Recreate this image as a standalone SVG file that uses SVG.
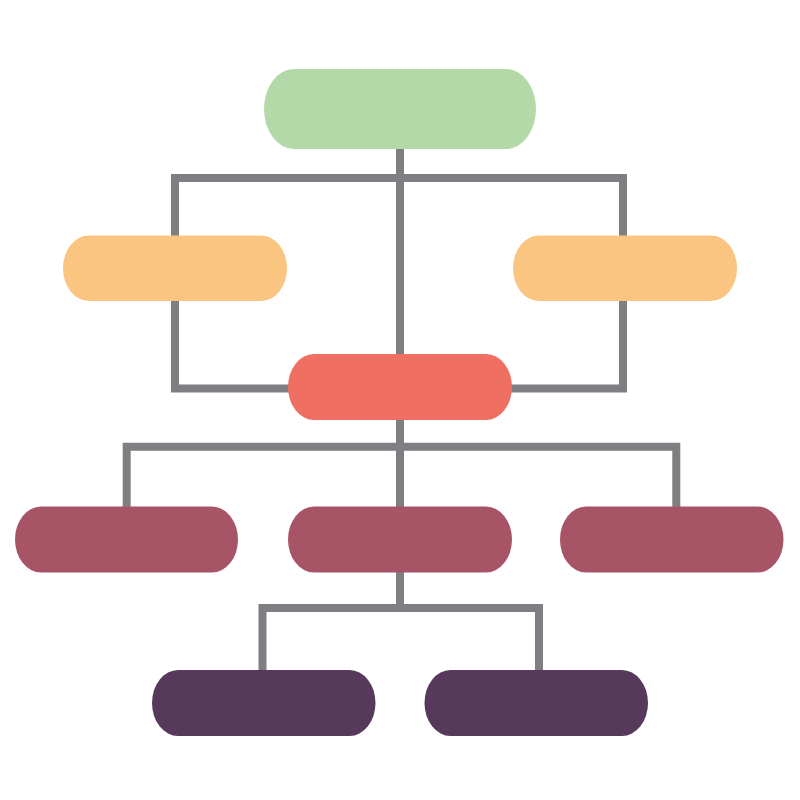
<svg xmlns="http://www.w3.org/2000/svg" width="800" height="800" viewBox="0 0 800 800">
<style>
.c{fill:none;stroke:#7f7f83;stroke-width:8;stroke-linejoin:miter;stroke-linecap:butt}
.g{fill:#b4d9a8}.o{fill:#f9c580}.r{fill:#ef6f63}.m{fill:#a85467}.p{fill:#57395c}
</style>
<rect width="800" height="800" fill="#ffffff"/>
<g id="connectors">
<path class="c" d="M175 236 V178 H623 V236"/>
<path class="c" d="M400 148 V355"/>
<path class="c" d="M175 300 V388.5 H289"/>
<path class="c" d="M623 300 V388.5 H511"/>
<path class="c" d="M400 419 V508"/>
<path class="c" d="M126.7 508 V446.7 H676.3 V508"/>
<path class="c" d="M400 571 V608"/>
<path class="c" d="M262.5 671 V608 H539 V671"/>
</g>
<g id="top"><rect class="g" x="264" y="69" width="272" height="80" rx="30" ry="40"/></g>
<g id="left-mid"><rect class="o" x="63" y="235.5" width="224" height="65.5" rx="26" ry="32.75"/></g>
<g id="right-mid"><rect class="o" x="513" y="235.5" width="224" height="65.5" rx="26" ry="32.75"/></g>
<g id="center"><rect class="r" x="288" y="354" width="224" height="66" rx="26" ry="33"/></g>
<g id="row3-left"><rect class="m" x="15" y="506.5" width="223" height="66" rx="26" ry="33"/></g>
<g id="row3-center"><rect class="m" x="288" y="506.5" width="224" height="66" rx="26" ry="33"/></g>
<g id="row3-right"><rect class="m" x="560" y="506.5" width="223.5" height="66" rx="26" ry="33"/></g>
<g id="bottom-left"><rect class="p" x="152" y="670" width="223.5" height="66" rx="26" ry="33"/></g>
<g id="bottom-right"><rect class="p" x="424.5" y="670" width="223.5" height="66" rx="26" ry="33"/></g>
</svg>
